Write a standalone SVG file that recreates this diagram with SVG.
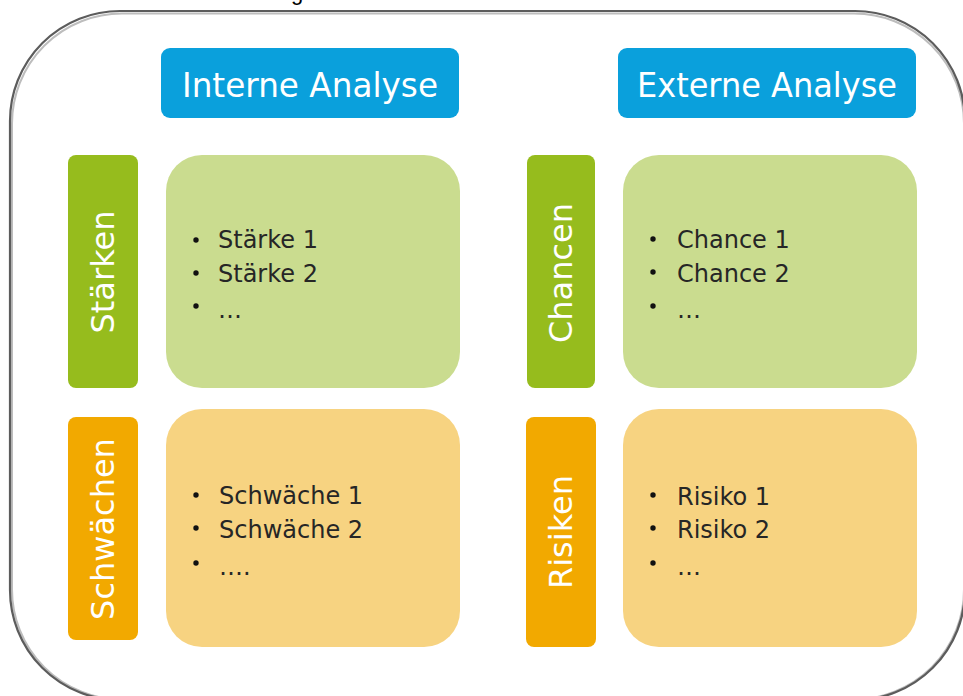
<svg xmlns="http://www.w3.org/2000/svg" width="963" height="696" viewBox="0 0 963 696">
  <style>
    .frame { fill: #ffffff; stroke: #5c5c5c; stroke-width: 2.2; }
    .frame-shade { fill: none; stroke: #bdbdbd; stroke-width: 2; }
    .head { fill: #0aa0dc; }
    .head-text { font-family: "DejaVu Sans", Verdana, sans-serif; font-size: 33px; fill: #ffffff; text-anchor: middle; }
    .tag-green { fill: #96bc1d; }
    .tag-orange { fill: #f2a900; }
    .box-green { fill: #cadc8f; }
    .box-orange { fill: #f7d381; }
    .tag-text { font-family: "DejaVu Sans", Verdana, sans-serif; font-size: 32px; fill: #ffffff; text-anchor: middle; }
    .item { font-family: "DejaVu Sans", Verdana, sans-serif; font-size: 24px; fill: #262626; }
    .bullet { fill: #111111; }
    .cut { font-family: "Liberation Sans", Arial, sans-serif; font-size: 22px; fill: #000000; }
  </style>

  <!-- outer rounded frame with a soft inner shade -->
  <g id="frame">
    <rect class="frame-shade" x="12" y="13.5" width="952" height="686" rx="110" ry="110"/>
    <rect class="frame" x="10" y="11" width="955" height="689" rx="110" ry="110" fill-opacity="0"/>
    <text class="cut" x="291" y="0">g</text>
  </g>

  <!-- column headers -->
  <g id="interne-analyse">
    <rect class="head" x="161" y="48" width="298" height="70" rx="9"/>
    <text class="head-text" x="310" y="97" textLength="256" lengthAdjust="spacingAndGlyphs">Interne Analyse</text>
  </g>
  <g id="externe-analyse">
    <rect class="head" x="618" y="48" width="298" height="70" rx="9"/>
    <text class="head-text" x="767" y="97" textLength="260" lengthAdjust="spacingAndGlyphs">Externe Analyse</text>
  </g>

  <!-- row tags -->
  <g id="staerken">
    <rect class="tag-green" x="68" y="155" width="70" height="233" rx="8"/>
    <text class="tag-text" transform="translate(114,272) rotate(-90)">Stärken</text>
  </g>
  <g id="schwaechen">
    <rect class="tag-orange" x="68" y="417" width="70" height="223" rx="8"/>
    <text class="tag-text" transform="translate(114,529) rotate(-90)">Schwächen</text>
  </g>
  <g id="chancen">
    <rect class="tag-green" x="527" y="155" width="68" height="233" rx="8"/>
    <text class="tag-text" transform="translate(572,273) rotate(-90)">Chancen</text>
  </g>
  <g id="risiken">
    <rect class="tag-orange" x="526" y="417" width="70" height="230" rx="8"/>
    <text class="tag-text" transform="translate(572,532) rotate(-90)">Risiken</text>
  </g>

  <!-- content boxes -->
  <g id="staerken-liste">
    <rect class="box-green" x="166" y="155" width="294" height="233" rx="36"/>
    <circle class="bullet" cx="196" cy="240" r="2.7"/>
    <circle class="bullet" cx="196" cy="273" r="2.7"/>
    <circle class="bullet" cx="196" cy="306" r="2.7"/>
    <text class="item" x="218" y="248">Stärke 1</text>
    <text class="item" x="218" y="282">Stärke 2</text>
    <text class="item" x="218" y="318">…</text>
  </g>
  <g id="chancen-liste">
    <rect class="box-green" x="623" y="155" width="294" height="233" rx="36"/>
    <circle class="bullet" cx="653" cy="239" r="2.7"/>
    <circle class="bullet" cx="653" cy="272" r="2.7"/>
    <circle class="bullet" cx="653" cy="306" r="2.7"/>
    <text class="item" x="677" y="248">Chance 1</text>
    <text class="item" x="677" y="282">Chance 2</text>
    <text class="item" x="677" y="318">…</text>
  </g>
  <g id="schwaechen-liste">
    <rect class="box-orange" x="166" y="409" width="294" height="238" rx="36"/>
    <circle class="bullet" cx="196" cy="495" r="2.7"/>
    <circle class="bullet" cx="196" cy="528" r="2.7"/>
    <circle class="bullet" cx="196" cy="563" r="2.7"/>
    <text class="item" x="219" y="504">Schwäche 1</text>
    <text class="item" x="219" y="538">Schwäche 2</text>
    <text class="item" x="219" y="575">….</text>
  </g>
  <g id="risiken-liste">
    <rect class="box-orange" x="623" y="409" width="294" height="238" rx="36"/>
    <circle class="bullet" cx="653" cy="495" r="2.7"/>
    <circle class="bullet" cx="653" cy="528" r="2.7"/>
    <circle class="bullet" cx="653" cy="563" r="2.7"/>
    <text class="item" x="677" y="505">Risiko 1</text>
    <text class="item" x="677" y="538">Risiko 2</text>
    <text class="item" x="677" y="575">…</text>
  </g>

  <g id="connectors"/>
</svg>
